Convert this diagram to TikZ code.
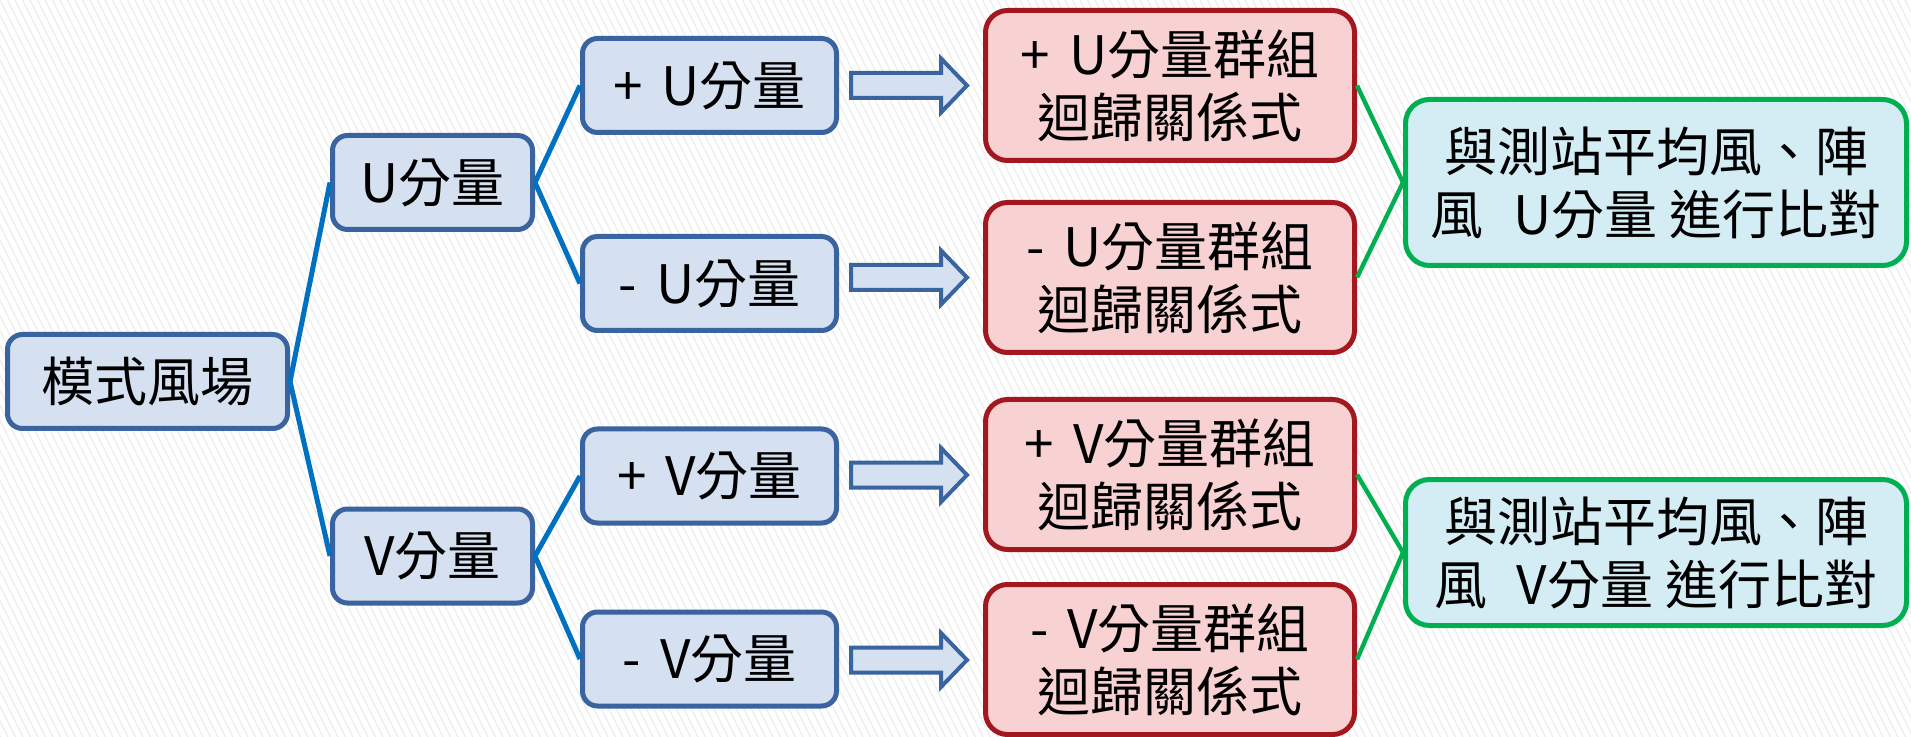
\documentclass[tikz,border=0pt]{standalone}
\usepackage{fontspec}
\setmainfont{Noto Sans CJK TC}
\definecolor{bluefill}{HTML}{D5E0F0}
\definecolor{bluebd}{HTML}{3A64A0}
\definecolor{linkblue}{HTML}{0070C0}
\definecolor{redfill}{HTML}{F8D1D2}
\definecolor{redbd}{HTML}{A3171E}
\definecolor{greenfill}{HTML}{D4EDF4}
\definecolor{greenbd}{HTML}{00B050}
\definecolor{bgline}{HTML}{EDEDED}
\newcommand{\sgap}{\hspace{0.36em}}
\begin{document}
\begin{tikzpicture}[x=0.5pt,y=-0.5pt,
  txt/.style={font=\fontsize{26.5pt}{31.5pt}\selectfont, text=black},
  bluebox/.style={txt, draw=bluebd, fill=bluefill, line width=2.5pt, rounded corners=7.5pt,
     minimum height=47pt, inner sep=0pt},
  redbox/.style={txt, draw=redbd, fill=redfill, line width=2.5pt, rounded corners=11pt,
     minimum width=184.5pt, minimum height=75pt, inner sep=0pt, align=center},
  greenbox/.style={txt, draw=greenbd, fill=greenfill, line width=2.5pt, rounded corners=12pt,
     minimum width=250.5pt, inner sep=0pt, align=center},
  link/.style={draw=linkblue, line width=2.5pt},
  glink/.style={draw=greenbd, line width=2.2pt},
  blockarrow/.style={draw=bluebd, fill=bluefill, line width=2pt, line join=miter}
]
% background
\useasboundingbox (0,0) rectangle (1911,737);
\fill[white] (0,0) rectangle (1911,737);
\begin{scope}
\clip (0,0) rectangle (1911,737);
\foreach \i in {-60,...,260}
  \draw[bgline, line width=0.6pt] ({\i*7.5},0) -- ({\i*7.5+368},737);
\end{scope}

% blue nodes
\node[bluebox, minimum width=140pt] (M) at (147.5,381.5) {模式風場};
\node[bluebox, minimum width=100pt] (U) at (432.5,182.5) {U分量};
\node[bluebox, minimum width=100pt] (V) at (432.5,556) {V分量};
\node[bluebox, minimum width=127pt] (pU) at (709.5,85.5) {+\sgap U分量};
\node[bluebox, minimum width=127pt] (mU) at (709.5,283.5) {-\sgap U分量};
\node[bluebox, minimum width=127pt] (pV) at (709.5,476) {+\sgap V分量};
\node[bluebox, minimum width=127pt] (mV) at (709.5,659) {-\sgap V分量};

% red nodes
\node[redbox] (R1) at (1170,85.5) {+\sgap U分量群組\\迴歸關係式};
\node[redbox] (R2) at (1170,277.5) {-\sgap U分量群組\\迴歸關係式};
\node[redbox] (R3) at (1170,474.5) {+\sgap V分量群組\\迴歸關係式};
\node[redbox] (R4) at (1170,659.5) {-\sgap V分量群組\\迴歸關係式};

% green nodes
\node[greenbox, minimum height=83pt] (G1) at (1656,182.5) {與測站平均風、陣\\風\hspace{0.55em}U分量 進行比對};
\node[greenbox, minimum height=73pt] (G2) at (1656,552.5) {與測站平均風、陣\\風\hspace{0.55em}V分量 進行比對};

% connectors
\draw[link] (M.east) -- (U.west);
\draw[link] (M.east) -- (V.west);
\draw[link] (U.east) -- (pU.west);
\draw[link] (U.east) -- (mU.west);
\draw[link] (V.east) -- (pV.west);
\draw[link] (V.east) -- (mV.west);
\draw[glink] (R1.east) -- (G1.west);
\draw[glink] (R2.east) -- (G1.west);
\draw[glink] (R3.east) -- (G2.west);
\draw[glink] (R4.east) -- (G2.west);

% block arrows
\foreach \yc in {85.5,277.5,475,660}
  \draw[blockarrow] (851,{\yc-12.5}) -- (941,{\yc-12.5}) -- (941,{\yc-27}) -- (967,\yc)
     -- (941,{\yc+27}) -- (941,{\yc+12.5}) -- (851,{\yc+12.5}) -- cycle;
\end{tikzpicture}
\end{document}
